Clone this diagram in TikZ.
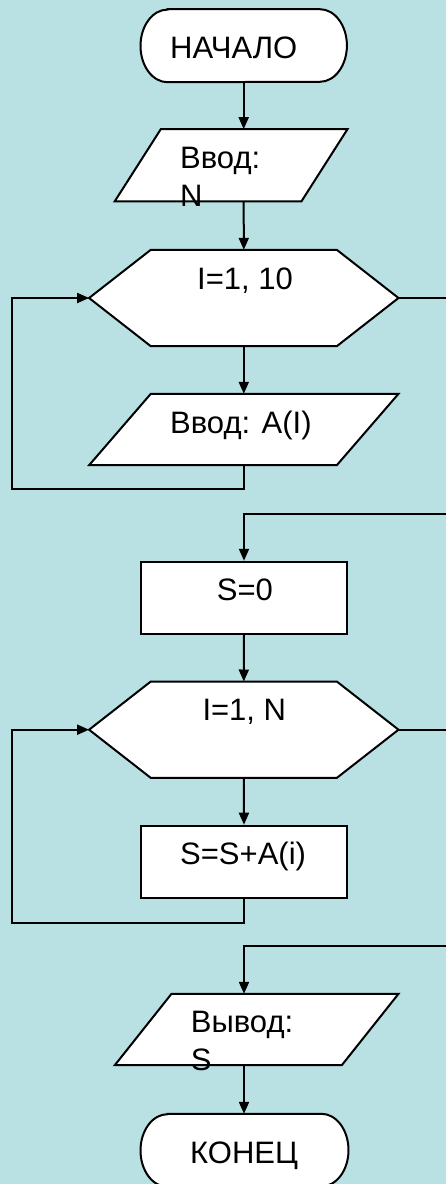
\documentclass[tikz,border=0pt]{standalone}
\usepackage{fontspec}
\setmainfont{Liberation Sans}
\usetikzlibrary{arrows.meta}
\definecolor{bg}{RGB}{185,224,227}
\tikzset{
  lw/.style={line width=2pt},
  arr/.style={lw, -{Triangle[length=12pt,width=10pt]}},
  term/.style={inner sep=0pt, append after command={\pgfextra{\fill[white,draw=black,lw] ([xshift=27pt]\tikzlastnode.north west) -- ([xshift=-27pt]\tikzlastnode.north east) arc[start angle=90,end angle=-90,x radius=27pt,y radius=36.3pt] -- ([xshift=27pt]\tikzlastnode.south west) arc[start angle=270,end angle=90,x radius=27pt,y radius=36.3pt] -- cycle;}}},
  proc/.style={draw, lw, fill=white, inner sep=0pt},
  io/.style={inner sep=0pt, append after command={\pgfextra{\fill[white,draw=black,lw] (\tikzlastnode.south west) -- ([xshift=-#1]\tikzlastnode.south east) -- (\tikzlastnode.north east) -- ([xshift=#1]\tikzlastnode.north west) -- cycle;}}},
  loopbox/.style={inner sep=0pt, append after command={\pgfextra{\fill[white,draw=black,lw] (\tikzlastnode.west) -- ([xshift=#1]\tikzlastnode.north west) -- ([xshift=-#1]\tikzlastnode.north east) -- (\tikzlastnode.east) -- ([xshift=-#1]\tikzlastnode.south east) -- ([xshift=#1]\tikzlastnode.south west) -- cycle;}}},
  txt/.style={font=\fontsize{31pt}{37.5pt}\selectfont, inner sep=0pt, anchor=base west}
}
\begin{document}
\begin{tikzpicture}[x=1pt,y=-1pt]
\useasboundingbox (0,0) rectangle (446,1184);
\fill[bg] (0,0) rectangle (446,1184);
% shapes
\node[term, minimum width=206pt, minimum height=72.6pt] (start) at (243.7,45.7) {};
\node[io=46pt, minimum width=232.3pt, minimum height=71.7pt] (in1) at (231.15,165.2) {};
\node[loopbox=61.7pt, minimum width=309pt, minimum height=96pt] (loop1) at (243.8,298) {};
\node[io=61.7pt, minimum width=309pt, minimum height=71pt] (in2) at (243.8,429.5) {};
\node[proc, minimum width=206.6pt, minimum height=72.3pt] (s0) at (244,597.9) {};
\node[loopbox=61.7pt, minimum width=309pt, minimum height=96pt] (loop2) at (243.8,729.7) {};
\node[proc, minimum width=206.6pt, minimum height=72pt] (sum) at (244,861.7) {};
\node[io=56.7pt, minimum width=283.3pt, minimum height=71pt] (out) at (256.65,1029.5) {};
\node[term, minimum width=207.6pt, minimum height=72.6pt] (end) at (244.5,1150.3) {};
% edge coordinates
\coordinate (e1) at (446,298);
\coordinate (e2) at (446,514);
\coordinate (e3) at (446,729.7);
\coordinate (e4) at (446,946);
% connectors
\draw[arr] (start.south) -- (start.south |- in1.north);
\draw[arr] (start.south |- in1.south) -- (loop1.north);
\draw[arr] (loop1.south) -- (in2.north);
\draw[arr] (in2.south) -- ++(0,24) -- ++(-231.8,0) |- (loop1.west);
\draw[lw] (loop1.east) -- (e1);
\draw[arr] (e2) -| (s0.north);
\draw[arr] (s0.south) -- (loop2.north);
\draw[arr] (loop2.south) -- (sum.north);
\draw[arr] (sum.south) -- ++(0,24) -- ++(-232,0) |- (loop2.west);
\draw[lw] (loop2.east) -- (e3);
\draw[arr] (e4) -| (sum.south |- out.north);
\draw[arr] (sum.south |- out.south) -- (sum.south |- end.north);
% texts
\node[txt] (t0) at (170,58.3) {НАЧАЛО};
\node[txt, align=left] (t1) at (180,206) {Ввод:\\N};
\node[txt] (t2) at (197,289) {I=1, 10};
\node[txt] (t3) at (170,433) {Ввод: A(I)};
\node[txt] (t4) at (216.7,600.7) {S=0};
\node[txt] (t5) at (202.3,720.7) {I=1, N};
\node[txt] (t6) at (180,864.3) {S=S+A(i)};
\node[txt, align=left] (t7) at (190.7,1070) {Вывод:\\S};
\node[txt] (t8) at (190,1163.3) {КОНЕЦ};
\end{tikzpicture}
\end{document}
